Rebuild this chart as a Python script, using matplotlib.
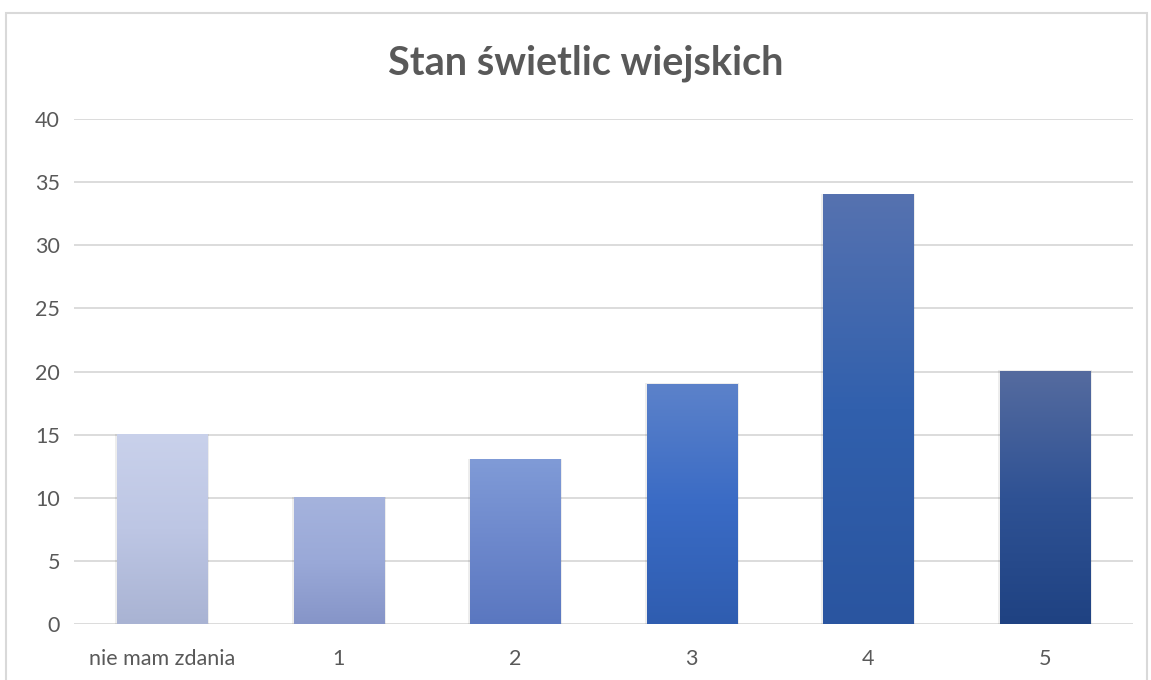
import matplotlib.pyplot as plt
import numpy as np
from matplotlib.colors import LinearSegmentedColormap
from matplotlib.patches import Rectangle

categories = ['nie mam zdania', '1', '2', '3', '4', '5']
values = [15, 10, 13, 19, 34, 20]
# gradient colours per bar (top, middle, bottom)
bar_colors = [
    ('#c9d1eb', '#bdc6e4', '#a9b3d3'),
    ('#a5b3dd', '#9aa9d8', '#8695c8'),
    ('#809bd7', '#6d88cc', '#5a77c0'),
    ('#5c82ca', '#3a6bc5', '#2f5db0'),
    ('#5672b0', '#3160ad', '#2a55a0'),
    ('#556b9f', '#2f5294', '#1f4282'),
]

plt.rcParams['font.family'] = ['Lato', 'DejaVu Sans']

fig = plt.figure(figsize=(11.51, 6.80), dpi=100)
ax = fig.add_axes([74 / 1151, 1 - 624 / 680, (1133 - 74) / 1151, (624 - 119) / 680])

x = np.arange(len(categories))
bars = ax.bar(x, values, width=0.51, color='none', zorder=3)

grad = np.linspace(0, 1, 256).reshape(-1, 1)
for b, cols in zip(bars, bar_colors):
    x0, w, h = b.get_x(), b.get_width(), b.get_height()
    # soft shadow
    ax.add_patch(Rectangle((x0 - 0.012, 0), w + 0.024, h + 0.08,
                           color='black', alpha=0.07, lw=0, zorder=2))
    cmap = LinearSegmentedColormap.from_list('g', list(cols))
    ax.imshow(grad, cmap=cmap, aspect='auto', extent=(x0, x0 + w, 0, h),
              origin='upper', zorder=3)

ax.set_xlim(-0.5, len(categories) - 0.5)
ax.set_ylim(0, 40)
ax.set_yticks(np.arange(0, 41, 5))
ax.set_xticks(x)
ax.set_xticklabels(categories)
ax.grid(axis='y', color='#d9d9d9', linewidth=1.3, zorder=0)
ax.set_axisbelow(True)
for s in ax.spines.values():
    s.set_visible(False)
ax.tick_params(length=0, colors='#595959', labelsize=15.5)
ax.tick_params(axis='y', pad=10)
ax.tick_params(axis='x', pad=18)

fig.text(586 / 1151, 1 - 63 / 680, 'Stan świetlic wiejskich', ha='center', va='center',
         fontsize=28.5, fontweight='bold', color='#595959')

fig.add_artist(Rectangle((6 / 1151, -0.01), 1141 / 1151, 1 - 13 / 680 + 0.01,
                         transform=fig.transFigure, fill=False,
                         edgecolor='#d9d9d9', lw=1.5))

fig.savefig('out.png', dpi=100)
